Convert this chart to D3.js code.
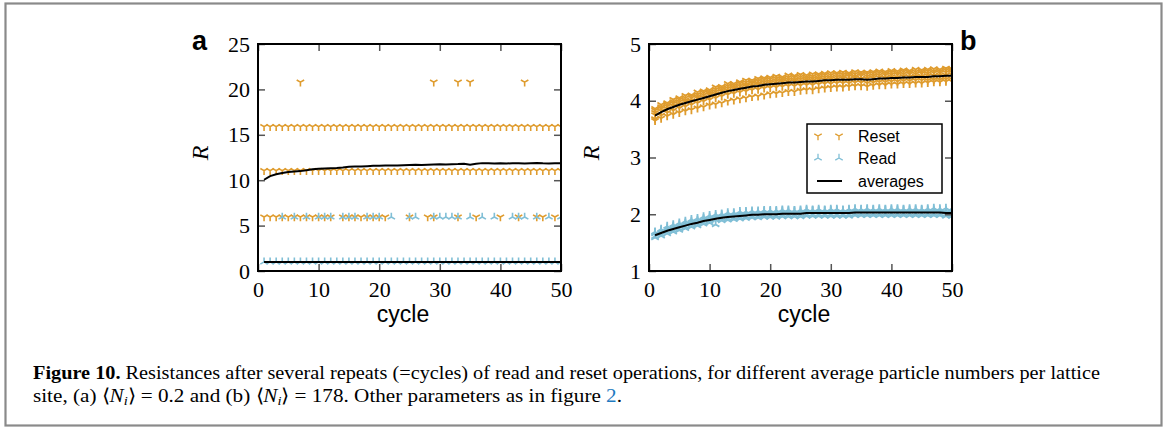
<!DOCTYPE html>
<html>
<head>
<meta charset="utf-8">
<script src="https://cdn.jsdelivr.net/npm/d3@7"></script>
<style>
  html, body { margin: 0; padding: 0; background: #fff; }
  svg { display: block; }
</style>
</head>
<body>
<svg id="fig" width="1168" height="430"></svg>
<script>
// cycles (x values)
var cycles = [1,2,3,4,5,6,7,8,9,10,11,12,13,14,15,16,17,18,19,20,21,22,23,24,25,
              26,27,28,29,30,31,32,33,34,35,36,37,38,39,40,41,42,43,44,45,46,47,48,49,50];
var xTicks = [0, 10, 20, 30, 40, 50];
var yTicksA = [0, 5, 10, 15, 20, 25];
var yTicksB = [1, 2, 3, 4, 5];

// panel a: discrete resistance levels and the cycles where they show up
var resetALevels = [20.8, 15.9, 11.05, 5.95];
var resetA21 = [7, 29, 33, 35, 44];
var resetA6 = [1,2,3,4,5,6,7,8,9,10,11,12,14,15,16,17,18,19,20,21,25,28,29,33,36,40,43,46,47,49];
var readALevels = [1.0, 5.95];
var readA6 = [4,6,8,10,11,12,14,15,16,18,19,20,22,25,26,29,30,31,32,33,35,37,39,42,43,44,46,48,50];
var resetAvgA = [10.05,10.45,10.65,10.8,10.9,10.95,11.0,11.1,11.2,11.25,11.3,11.32,11.35,11.4,11.48,
                 11.5,11.52,11.55,11.58,11.6,11.62,11.63,11.62,11.65,11.68,11.7,11.68,11.7,11.72,11.75,
                 11.74,11.76,11.78,11.82,11.7,11.8,11.88,11.86,11.84,11.88,11.85,11.86,11.88,11.85,11.87,
                 11.9,11.86,11.85,11.88,11.87];
var readAvgA = [0.98,1.0,1.0,1.0,1.0,1.0,1.0,1.0,1.0,1.0,1.0,1.0,1.0,1.0,1.0,1.0,1.0,1.0,1.0,1.0,
                1.0,1.0,1.0,1.0,1.0,1.0,1.0,1.0,1.0,1.0,1.0,1.0,1.0,1.0,1.0,1.0,1.0,1.0,1.0,1.0,
                1.0,1.0,1.0,1.0,1.0,1.0,1.0,1.0,1.0,1.0];

// panel b: sample spread per cycle
var resetBHi = [3.86,3.93,3.96,4.02,4.05,4.09,4.10,4.15,4.17,4.19,4.24,4.25,4.30,4.30,4.33,4.36,4.36,4.39,4.40,4.41,
                4.43,4.42,4.45,4.44,4.46,4.45,4.47,4.47,4.48,4.49,4.49,4.50,4.49,4.51,4.50,4.50,4.51,4.52,4.51,4.53,
                4.52,4.54,4.53,4.55,4.54,4.55,4.56,4.55,4.57,4.56];
var resetBHi2 = [3.83,3.89,3.93,3.98,4.02,4.05,4.08,4.11,4.14,4.16,4.20,4.22,4.26,4.27,4.30,4.32,4.33,4.35,4.37,4.38,
                 4.39,4.39,4.41,4.41,4.42,4.42,4.43,4.44,4.45,4.45,4.46,4.46,4.46,4.47,4.47,4.47,4.48,4.49,4.48,4.50,
                 4.49,4.51,4.50,4.51,4.51,4.52,4.52,4.52,4.54,4.53];
var resetBMid = [3.79,3.86,3.90,3.95,3.98,4.01,4.05,4.07,4.10,4.13,4.16,4.19,4.22,4.24,4.26,4.28,4.30,4.31,4.33,4.34,
                 4.35,4.36,4.37,4.37,4.38,4.39,4.39,4.40,4.41,4.41,4.42,4.42,4.43,4.43,4.44,4.43,4.44,4.45,4.45,4.46,
                 4.46,4.47,4.47,4.47,4.48,4.48,4.49,4.49,4.50,4.50];
var resetBMid2 = [3.75,3.82,3.86,3.91,3.94,3.98,4.00,4.04,4.06,4.10,4.12,4.16,4.18,4.21,4.22,4.25,4.26,4.28,4.29,4.31,
                  4.31,4.33,4.33,4.34,4.34,4.36,4.35,4.37,4.37,4.38,4.38,4.39,4.38,4.40,4.39,4.39,4.40,4.41,4.40,4.42,
                  4.41,4.43,4.42,4.43,4.43,4.44,4.44,4.45,4.45,4.46];
var resetBLo2 = [3.68,3.74,3.79,3.83,3.87,3.90,3.93,3.96,3.99,4.02,4.05,4.08,4.11,4.13,4.15,4.17,4.19,4.20,4.22,4.23,
                 4.24,4.25,4.26,4.26,4.27,4.28,4.28,4.29,4.30,4.30,4.31,4.31,4.31,4.32,4.32,4.31,4.32,4.33,4.33,4.34,
                 4.34,4.35,4.35,4.36,4.36,4.36,4.37,4.37,4.38,4.38];
var resetBLo = [3.65,3.69,3.73,3.76,3.79,3.82,3.84,3.87,3.89,3.92,3.94,3.96,3.99,4.01,4.03,4.05,4.07,4.08,4.10,4.12,
                4.13,4.14,4.16,4.16,4.18,4.19,4.19,4.21,4.22,4.23,4.24,4.24,4.25,4.26,4.26,4.25,4.27,4.28,4.28,4.29,
                4.29,4.30,4.30,4.31,4.31,4.32,4.33,4.33,4.34,4.34];
var resetAvgB = [3.74,3.80,3.85,3.89,3.93,3.96,3.99,4.02,4.05,4.08,4.11,4.14,4.17,4.19,4.21,4.23,4.25,4.26,4.28,4.29,
                 4.30,4.31,4.32,4.32,4.33,4.34,4.34,4.35,4.36,4.36,4.37,4.37,4.37,4.38,4.38,4.37,4.38,4.39,4.39,4.40,
                 4.40,4.41,4.41,4.42,4.42,4.42,4.43,4.43,4.44,4.44];
var readBHi = [1.69,1.74,1.79,1.82,1.85,1.88,1.91,1.93,1.96,1.98,2.00,2.01,2.03,2.03,2.05,2.05,2.06,2.06,2.07,2.07,
               2.07,2.08,2.08,2.07,2.08,2.09,2.08,2.09,2.08,2.09,2.09,2.08,2.09,2.10,2.09,2.10,2.09,2.10,2.09,2.10,
               2.10,2.09,2.10,2.10,2.09,2.10,2.11,2.10,2.11,2.10];
var readBHi2 = [1.68,1.72,1.76,1.79,1.82,1.85,1.88,1.90,1.93,1.95,1.97,1.99,2.00,2.01,2.02,2.03,2.04,2.04,2.05,2.05,
                2.05,2.06,2.06,2.06,2.06,2.07,2.07,2.07,2.07,2.07,2.07,2.07,2.07,2.08,2.08,2.08,2.08,2.08,2.08,2.08,
                2.08,2.08,2.08,2.08,2.08,2.08,2.08,2.08,2.07,2.07];
var readBMid = [1.66,1.70,1.74,1.77,1.80,1.83,1.86,1.88,1.91,1.93,1.95,1.97,1.98,1.99,2.00,2.01,2.02,2.02,2.03,2.03,
                2.03,2.04,2.04,2.04,2.04,2.05,2.05,2.05,2.05,2.05,2.05,2.05,2.05,2.06,2.06,2.06,2.06,2.06,2.06,2.06,
                2.06,2.06,2.06,2.06,2.06,2.06,2.06,2.06,2.05,2.05];
var readBLo2 = [1.61,1.65,1.69,1.72,1.75,1.78,1.81,1.83,1.86,1.88,1.90,1.92,1.93,1.94,1.95,1.96,1.97,1.97,1.98,1.98,
                1.98,1.99,1.99,1.99,1.99,2.00,2.00,2.00,2.00,2.00,2.00,2.00,2.00,2.01,2.01,2.01,2.01,2.01,2.01,2.01,
                2.01,2.01,2.01,2.01,2.01,2.01,2.01,2.01,2.00,2.00];
var readBLo = [1.59,1.62,1.66,1.69,1.72,1.75,1.78,1.80,1.83,1.85,1.82,1.89,1.90,1.91,1.92,1.93,1.94,1.94,1.95,1.95,
               1.95,1.96,1.96,1.96,1.96,1.97,1.97,1.97,1.97,1.97,1.97,1.97,1.97,1.98,1.98,1.98,1.98,1.98,1.98,1.98,
               1.98,1.98,1.98,1.98,1.98,1.98,1.98,1.98,1.97,1.97];
var readAvgB = [1.63,1.67,1.71,1.74,1.77,1.80,1.83,1.85,1.88,1.90,1.92,1.94,1.95,1.96,1.97,1.98,1.99,1.99,2.00,2.00,
                2.00,2.01,2.01,2.01,2.01,2.02,2.02,2.02,2.02,2.02,2.02,2.02,2.02,2.03,2.03,2.03,2.03,2.03,2.03,2.03,
                2.03,2.03,2.03,2.03,2.03,2.03,2.03,2.03,2.02,2.02];

var legendLabels = ["Reset", "Read", "averages"];

var orange = "#df9c2e", blue = "#80bfd6";
var svg = d3.select("#fig");

// outer frame of the figure
svg.append("rect").attr("x", 5.5).attr("y", 3.5).attr("width", 1156).attr("height", 422)
  .attr("fill", "none").attr("stroke", "#8a8a8a").attr("stroke-width", 2.2);

var r = 4.3;
var triDown = "M0,0L0," + r + "M0,0L" + (-0.866 * r) + "," + (-0.5 * r) + "M0,0L" + (0.866 * r) + "," + (-0.5 * r);
var triUp = "M0,0L0," + (-r) + "M0,0L" + (-0.866 * r) + "," + (0.5 * r) + "M0,0L" + (0.866 * r) + "," + (0.5 * r);

function panel(id, left, right, yDomain, yTicks) {
  var x = d3.scaleLinear().domain([0, 50]).range([left, right]);
  var y = d3.scaleLinear().domain(yDomain).range([271, 44]);
  var g = svg.append("g");
  svg.append("clipPath").attr("id", id).append("rect")
    .attr("x", left).attr("y", 44).attr("width", right - left).attr("height", 227);
  var plot = g.append("g").attr("clip-path", "url(#" + id + ")");

  var ax = [
    d3.axisBottom(x).tickValues(xTicks).tickSizeInner(-7).tickSizeOuter(0).tickPadding(10).tickFormat(d3.format("d")),
    d3.axisTop(x).tickValues(xTicks).tickSizeInner(-7).tickSizeOuter(0).tickFormat(""),
    d3.axisLeft(y).tickValues(yTicks).tickSizeInner(-7).tickSizeOuter(0).tickPadding(8).tickFormat(d3.format("d")),
    d3.axisRight(y).tickValues(yTicks).tickSizeInner(-7).tickSizeOuter(0).tickFormat("")
  ];
  var tr = ["translate(0,271)", "translate(0,44)", "translate(" + left + ",0)", "translate(" + right + ",0)"];
  ax.forEach(function(a, i) {
    var ag = g.append("g").attr("transform", tr[i]).call(a);
    ag.attr("font-family", null).attr("font-size", null);
    ag.select(".domain").remove();
    ag.selectAll(".tick line").attr("stroke", "#555").attr("stroke-width", 1.5);
    ag.selectAll(".tick text")
      .attr("font-family", "'Liberation Serif', 'DejaVu Serif', serif")
      .attr("font-size", 22).attr("fill", "#000");
  });
  g.append("rect").attr("x", left).attr("y", 44).attr("width", right - left).attr("height", 227)
    .attr("fill", "none").attr("stroke", "#000").attr("stroke-width", 2);

  g.append("text").attr("x", 0).attr("y", 0)
    .attr("transform", "translate(" + (left - 50) + ",153) rotate(-90)")
    .attr("text-anchor", "middle")
    .style("font-family", "Liberation Serif, serif").style("font-style", "italic").style("font-size", "24px")
    .text("R");
  return {x: x, y: y, g: g, plot: plot};
}

function markers(p, xs, ys, shape, color, sw) {
  p.plot.append("g").selectAll("path").data(xs).enter().append("path")
    .attr("d", shape)
    .attr("transform", function(d, i) { return "translate(" + p.x(d) + "," + p.y(ys[i]) + ")"; })
    .attr("fill", "none").attr("stroke", color).attr("stroke-width", sw || 1.6);
}

function avgLine(p, vals) {
  p.plot.append("path").datum(vals)
    .attr("d", d3.line().x(function(d, i) { return p.x(cycles[i]); }).y(function(d) { return p.y(d); }))
    .attr("fill", "none").attr("stroke", "#000").attr("stroke-width", 2);
}

function level(list, v) { return list.map(function() { return v; }); }

// ---- panel a ----
var pa = panel("clipA", 258, 561, [0, 25], yTicksA);
var resetACycles = [resetA21, cycles, cycles, resetA6];
resetALevels.forEach(function(v, i) {
  markers(pa, resetACycles[i], level(resetACycles[i], v), triDown, orange);
});
var readACycles = [cycles, readA6];
readALevels.forEach(function(v, i) {
  markers(pa, readACycles[i], level(readACycles[i], v), triUp, blue);
});
avgLine(pa, resetAvgA);
avgLine(pa, readAvgA);

// ---- panel b ----
var pb = panel("clipB", 649, 952, [1, 5], yTicksB);
[resetBLo, resetBLo2, resetBMid2, resetBMid, resetBHi2, resetBHi].forEach(function(s) {
  markers(pb, cycles, s, triDown, orange, 1.8);
});
[readBLo, readBLo2, readBMid, readBHi2, readBHi].forEach(function(s) {
  markers(pb, cycles, s, triUp, blue, 1.8);
});
avgLine(pb, resetAvgB);
avgLine(pb, readAvgB);

// axis labels
[[403, "cycle"], [804, "cycle"]].forEach(function(t) {
  svg.append("text").attr("x", t[0]).attr("y", 322).attr("text-anchor", "middle")
    .style("font-family", "Liberation Sans, Arial, sans-serif").style("font-size", "23px").text(t[1]);
});
svg.append("text").attr("x", 192).attr("y", 50)
  .style("font-family", "Liberation Sans, Arial, sans-serif").style("font-weight", "bold").style("font-size", "27px").text("a");
svg.append("text").attr("x", 960).attr("y", 50)
  .style("font-family", "Liberation Sans, Arial, sans-serif").style("font-weight", "bold").style("font-size", "27px").text("b");

// legend
var lg = svg.append("g");
lg.append("rect").attr("x", 807).attr("y", 124).attr("width", 135).attr("height", 69)
  .attr("fill", "#fff").attr("stroke", "#000").attr("stroke-width", 1.5);
var legY = [136, 158, 181];
[triDown, triUp].forEach(function(shape, i) {
  [818, 839].forEach(function(mx) {
    lg.append("path").attr("d", shape).attr("transform", "translate(" + mx + "," + legY[i] + ")")
      .attr("fill", "none").attr("stroke", i === 0 ? orange : blue).attr("stroke-width", 1.3);
  });
});
lg.append("line").attr("x1", 817).attr("x2", 842).attr("y1", legY[2]).attr("y2", legY[2])
  .attr("stroke", "#000").attr("stroke-width", 2);
legendLabels.forEach(function(l, i) {
  lg.append("text").attr("x", 858).attr("y", legY[i] + 6)
    .style("font-family", "Liberation Sans, Arial, sans-serif").style("font-size", "16px").text(l);
});

// caption
var cap1 = svg.append("text").attr("x", 33).attr("y", 379)
  .attr("textLength", 1067).attr("lengthAdjust", "spacingAndGlyphs")
  .style("font-family", "Liberation Serif, serif").style("font-size", "19px");
cap1.append("tspan").style("font-weight", "bold").text("Figure 10. ");
cap1.append("tspan").text("Resistances after several repeats (=cycles) of read and reset operations, for different average particle numbers per lattice");

var cap2 = svg.append("text").attr("x", 33).attr("y", 402)
  .attr("textLength", 589).attr("lengthAdjust", "spacingAndGlyphs")
  .style("font-family", "Liberation Serif, serif").style("font-size", "19px");
cap2.append("tspan").text("site, (a) \u27E8");
cap2.append("tspan").style("font-style", "italic").text("N");
cap2.append("tspan").style("font-style", "italic").style("font-size", "13px").attr("dy", 3).text("i");
cap2.append("tspan").attr("dy", -3).text("\u27E9 = 0.2 and (b) \u27E8");
cap2.append("tspan").style("font-style", "italic").text("N");
cap2.append("tspan").style("font-style", "italic").style("font-size", "13px").attr("dy", 3).text("i");
cap2.append("tspan").attr("dy", -3).text("\u27E9 = 178. Other parameters as in figure ");
cap2.append("tspan").style("fill", "#1f7ac0").text("2");
cap2.append("tspan").text(".");
</script>
</body>
</html>
